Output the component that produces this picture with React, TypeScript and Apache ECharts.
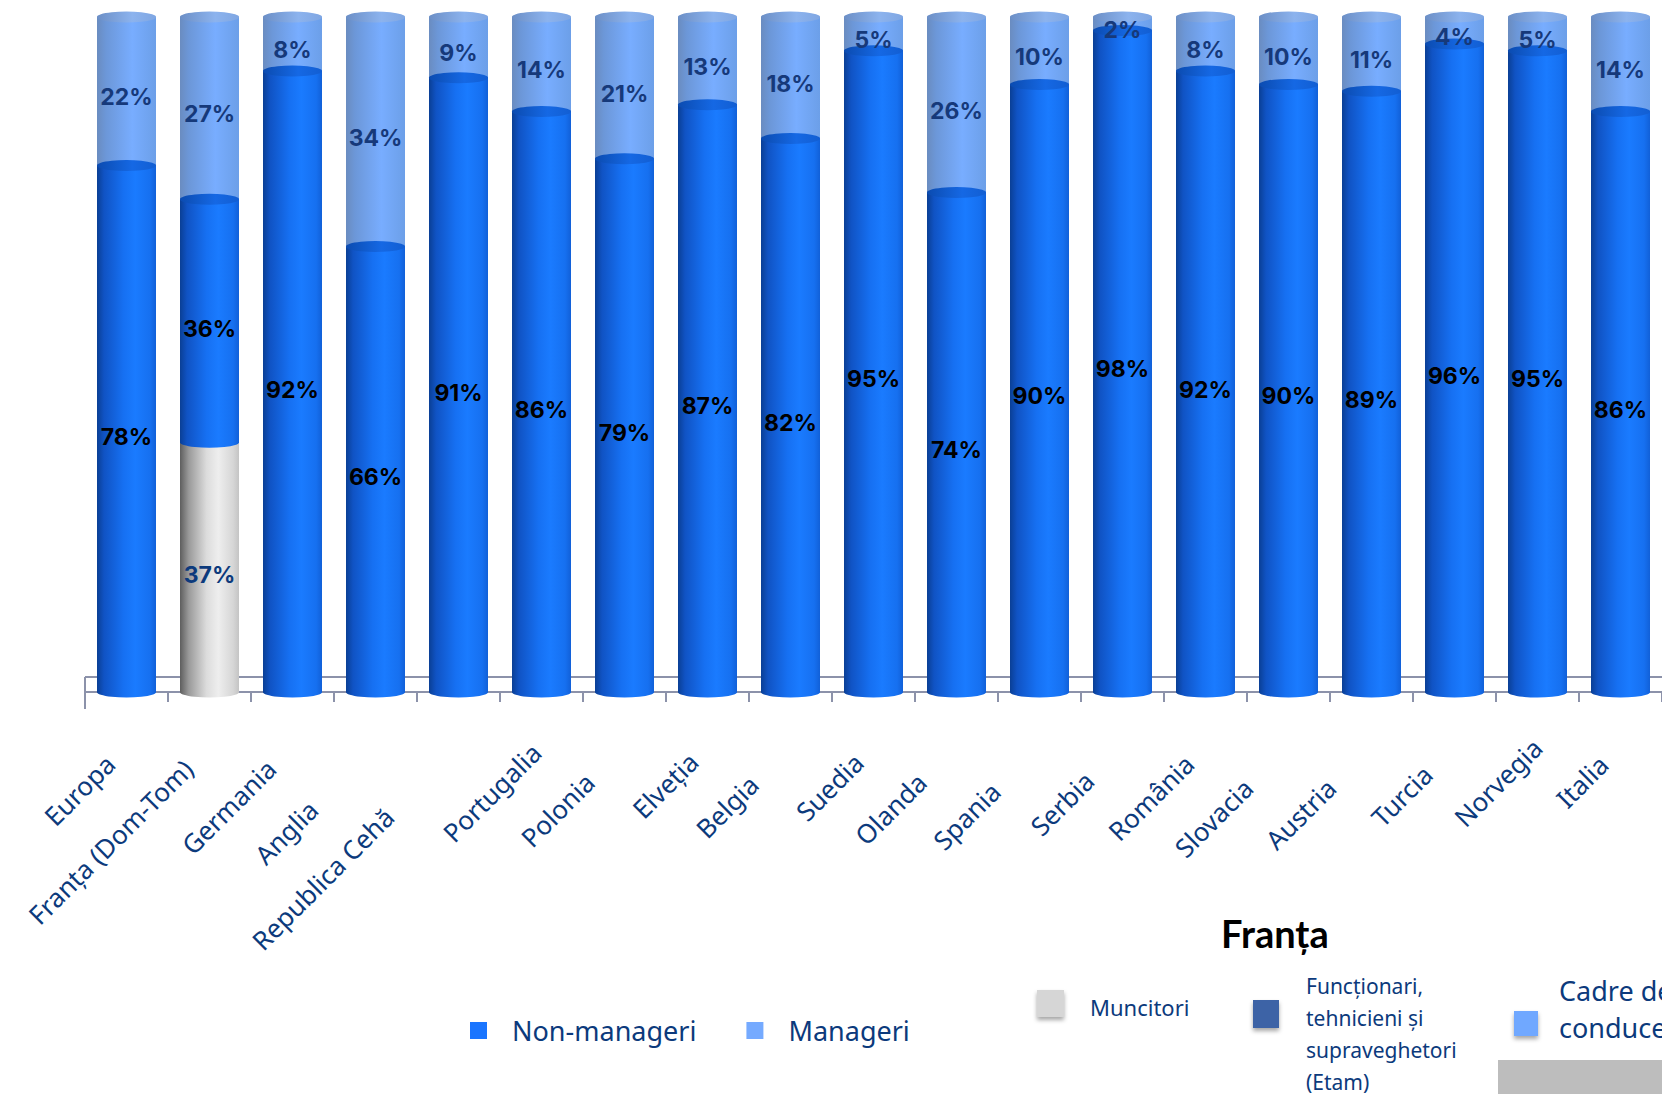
import React, { useEffect, useRef } from 'react';
import * as echarts from 'echarts';

const CATEGORIES = [
  'Europa', 'Franța (Dom-Tom)', 'Germania', 'Anglia', 'Republica Cehă', 'Portugalia', 'Polonia',
  'Elveția', 'Belgia', 'Suedia', 'Olanda', 'Spania', 'Serbia', 'România', 'Slovacia', 'Austria',
  'Turcia', 'Norvegia', 'Italia',
];
const MUNCITORI = [0, 37, 0, 0, 0, 0, 0, 0, 0, 0, 0, 0, 0, 0, 0, 0, 0, 0, 0];
const NON_MANAGERI = [78, 36, 92, 66, 91, 86, 79, 87, 82, 95, 74, 90, 98, 92, 90, 89, 96, 95, 86];
const MANAGERI = [22, 27, 8, 34, 9, 14, 21, 13, 18, 5, 26, 10, 2, 8, 10, 11, 4, 5, 14];

const SERIES_NAMES = ['Muncitori', 'Non-manageri', 'Manageri'];
const FRANTA_TITLE = 'Franța';
const FRANTA_LEGEND = ['Muncitori', 'Funcționari,\ntehnicieni și\nsupraveghetori\n(Etam)', 'Cadre de\nconducere'];

// layout only: extra along-text shift of each rotated category label
const LABEL_STAGGER = [23, 30, 30, 88, 98, 7, 49, 20, 52, 21, 49, 62, 47, 23, 57, 57, 38, 0, 24];

const NAVY = '#0c3a7c';
const BAR_W = 59;

const grad = (stops: [number, string][]) =>
  new echarts.graphic.LinearGradient(0, 0, 1, 0, stops.map(([offset, color]) => ({ offset, color })));

const BLUE = () => grad([[0, '#0a3f95'], [0.12, '#1053c4'], [0.45, '#1670f2'], [0.65, '#1a7bff'], [0.9, '#1670f0'], [1, '#1160d8']]);
const LIGHT = () => grad([[0, '#6a8cc0'], [0.15, '#6c97d8'], [0.6, '#78adff'], [1, '#6c9fe8']]);
const GRAY = () => grad([[0, '#5e5e5e'], [0.15, '#9a9a9a'], [0.45, '#dcdcdc'], [0.65, '#eeeeee'], [0.9, '#d6d6d6'], [1, '#c4c4c4']]);
const TOPCAP = () => grad([[0, '#6c8fc6'], [0.6, '#8cb3ee'], [1, '#7fa6e2']]);
const MIDCAP = () => grad([[0, '#0b4bb0'], [0.6, '#1568e4'], [1, '#125ed2']]);

export default function App() {
  const ref = useRef<HTMLDivElement>(null);

  useEffect(() => {
    if (!ref.current) return;
    const chart = echarts.init(ref.current, undefined, { renderer: 'svg' });

    const totals = CATEGORIES.map((_, i) => MUNCITORI[i] + NON_MANAGERI[i] + MANAGERI[i]);
    const nonTop = CATEGORIES.map((_, i) => MUNCITORI[i] + NON_MANAGERI[i]);

    const pctFmt = (p: any) => (p.value ? p.value + '%' : '');
    const labelFont = { fontFamily: 'Inter', fontWeight: 700, fontSize: 23 };

    const mainBar = (name: string, data: number[], color: any) => ({
      name,
      type: 'bar',
      stack: 'main',
      data,
      barWidth: BAR_W,
      barGap: '-100%',
      itemStyle: { color },
      z: 2,
    });

    const labelBar = (name: string, data: number[], color: string, offY: number) => ({
      name: 'lbl-' + name,
      type: 'bar',
      stack: 'lbl',
      data,
      barWidth: BAR_W,
      barGap: '-100%',
      silent: true,
      itemStyle: { color: 'rgba(0,0,0,0)' },
      label: {
        show: true,
        position: 'inside',
        offset: [0, offY],
        formatter: pctFmt,
        color,
        ...labelFont,
      },
      z: 6,
    });

    const option: any = {
      animation: false,
      backgroundColor: '#ffffff',
      grid: { left: 85, top: 17, width: 1587, bottom: 402, containLabel: false },
      xAxis: {
        type: 'category',
        data: CATEGORIES.map((c, i) => ({
          value: c,
          textStyle: { padding: [59, LABEL_STAGGER[i], 0, 0] },
        })),
        offset: 17,
        axisLine: { show: true, lineStyle: { color: '#8c92aa', width: 2 } },
        axisTick: { show: true, length: 10, interval: 0, lineStyle: { color: '#8c92aa', width: 2 } },
        axisLabel: {
          interval: 0,
          rotate: 45,
          margin: 34,
          color: NAVY,
          fontFamily: 'Noto Sans',
          fontSize: 26,
        },
      },
      yAxis: { type: 'value', min: 0, max: 100, show: false },
      legend: {
        left: 465,
        top: 1012,
        icon: 'rect',
        itemWidth: 17,
        itemHeight: 17,
        itemGap: 50,
        selectedMode: false,
        textStyle: { color: NAVY, fontFamily: 'Noto Sans', fontSize: 27, padding: [0, 0, 0, 20] },
        data: [
          { name: SERIES_NAMES[1], itemStyle: { color: '#1a75ff' } },
          { name: SERIES_NAMES[2], itemStyle: { color: '#75aaff' } },
        ],
      },
      series: [
        mainBar(SERIES_NAMES[0], MUNCITORI, GRAY()),
        mainBar(SERIES_NAMES[1], NON_MANAGERI, BLUE()),
        mainBar(SERIES_NAMES[2], MANAGERI, LIGHT()),
        labelBar(SERIES_NAMES[0], MUNCITORI, NAVY, 8),
        labelBar(SERIES_NAMES[1], NON_MANAGERI, '#000000', 8),
        labelBar(SERIES_NAMES[2], MANAGERI, '#16397a', 6),
        {
          type: 'pictorialBar',
          symbol: 'circle',
          symbolSize: [BAR_W, 11],
          symbolPosition: 'start',
          symbolOffset: [0, '50%'],
          silent: true,
          z: 1,
          data: totals.map((v, i) => ({ value: v, itemStyle: { color: MUNCITORI[i] > 0 ? GRAY() : BLUE() } })),
        },
        {
          type: 'pictorialBar',
          symbol: 'circle',
          symbolSize: [BAR_W, 11],
          symbolPosition: 'end',
          symbolOffset: [0, '-50%'],
          silent: true,
          z: 3,
          itemStyle: { color: BLUE() },
          data: MUNCITORI.map((v) => (v > 0 ? v : '-')),
        },
        {
          type: 'pictorialBar',
          symbol: 'circle',
          symbolSize: [BAR_W, 11],
          symbolPosition: 'end',
          symbolOffset: [0, '-50%'],
          silent: true,
          z: 3,
          itemStyle: { color: MIDCAP() },
          data: nonTop,
        },
        {
          type: 'pictorialBar',
          symbol: 'circle',
          symbolSize: [BAR_W, 11],
          symbolPosition: 'end',
          symbolOffset: [0, '-50%'],
          silent: true,
          z: 3,
          itemStyle: { color: TOPCAP() },
          data: totals,
        },
      ],
      graphic: [
        { type: 'line', z: 0, shape: { x1: 85, y1: 677, x2: 1662, y2: 677 }, style: { stroke: '#8c92aa', lineWidth: 2 } },
        { type: 'line', z: 0, shape: { x1: 85, y1: 677, x2: 85, y2: 709 }, style: { stroke: '#8c92aa', lineWidth: 2 } },
        {
          type: 'text',
          style: { text: FRANTA_TITLE, x: 1221, y: 933, font: 'bold 38px Lato', fill: '#000000', textVerticalAlign: 'middle', verticalAlign: 'middle' },
        },
        {
          type: 'rect',
          shape: { x: 1037, y: 990, width: 27, height: 27 },
          style: { fill: '#d6d6d6', shadowBlur: 4, shadowOffsetY: 3, shadowColor: 'rgba(0,0,0,0.35)' },
        },
        {
          type: 'text',
          style: { text: FRANTA_LEGEND[0], x: 1090, y: 1007, font: '22px "Noto Sans"', fill: NAVY, textVerticalAlign: 'middle', verticalAlign: 'middle' },
        },
        {
          type: 'rect',
          shape: { x: 1253, y: 1000, width: 26, height: 28 },
          style: { fill: '#3e63a6', shadowBlur: 4, shadowOffsetY: 3, shadowColor: 'rgba(0,0,0,0.35)' },
        },
        {
          type: 'text',
          style: { text: FRANTA_LEGEND[1], x: 1306, y: 970, font: '21px "Noto Sans"', lineHeight: 32, fill: NAVY, textVerticalAlign: 'top', verticalAlign: 'top' },
        },
        {
          type: 'rect',
          shape: { x: 1514, y: 1011, width: 24, height: 25 },
          style: { fill: '#6fa8ff', shadowBlur: 4, shadowOffsetY: 3, shadowColor: 'rgba(0,0,0,0.35)' },
        },
        {
          type: 'text',
          style: { text: FRANTA_LEGEND[2], x: 1559, y: 972, font: '27px "Noto Sans"', lineHeight: 37, fill: NAVY, textVerticalAlign: 'top', verticalAlign: 'top' },
        },
        { type: 'rect', shape: { x: 1498, y: 1060, width: 164, height: 34 }, style: { fill: '#bdbdbd' } },
      ],
    };

    chart.setOption(option);
    return () => chart.dispose();
  }, []);

  return (
    <div
      ref={ref}
      style={{ position: 'fixed', left: 0, top: 0, width: 1662, height: 1094, background: '#ffffff' }}
    />
  );
}
